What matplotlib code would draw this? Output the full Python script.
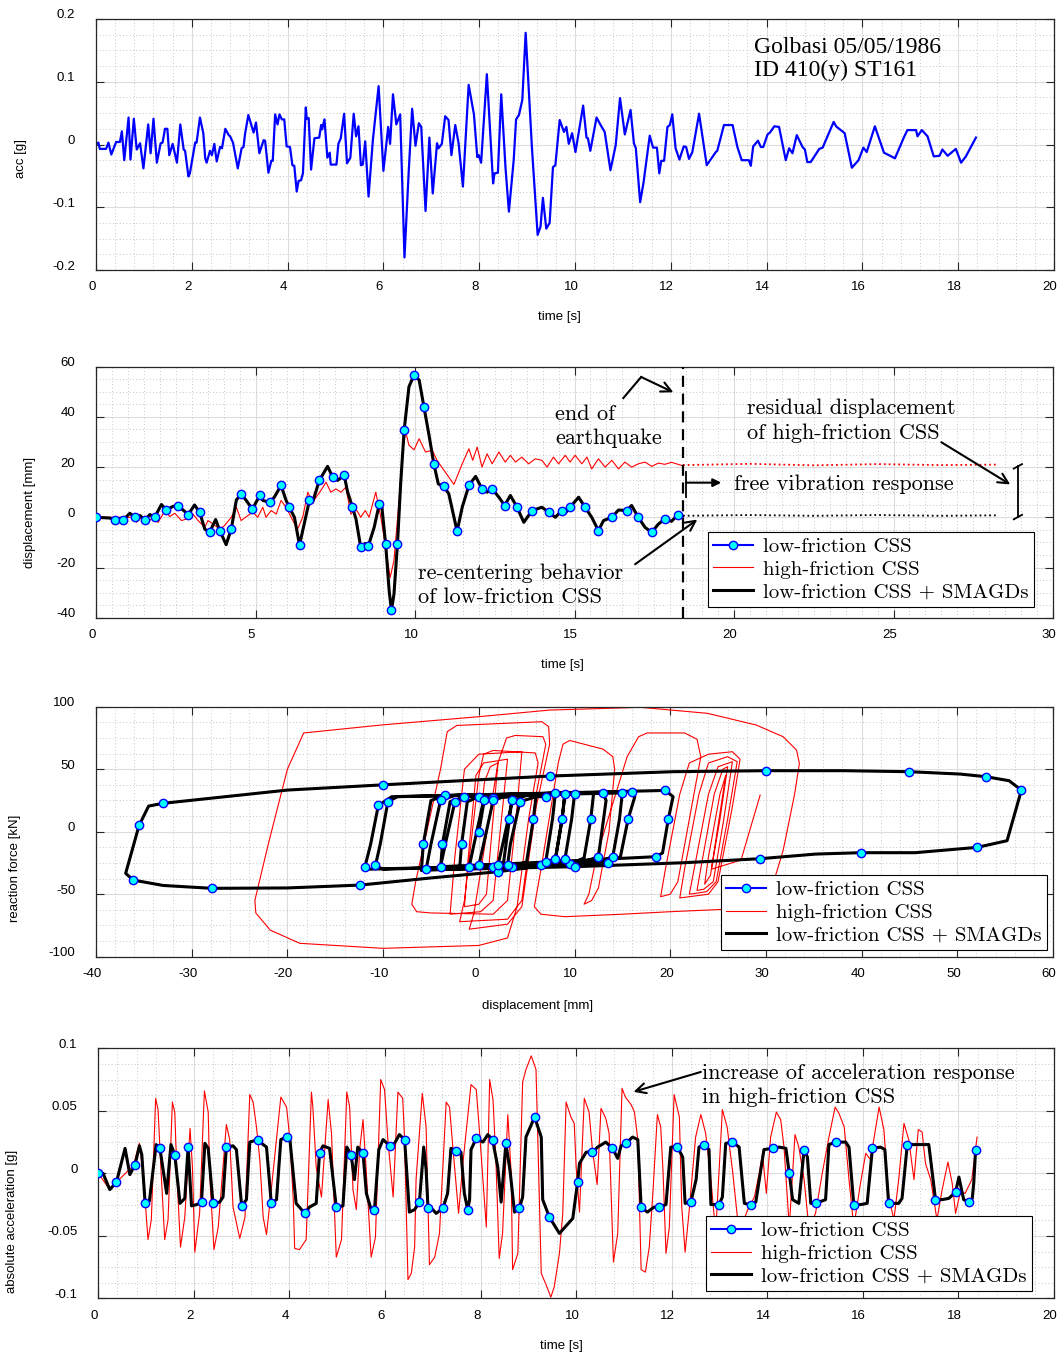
import matplotlib
matplotlib.use('Agg')
import matplotlib.pyplot as plt
from matplotlib.lines import Line2D
from matplotlib.ticker import MultipleLocator
from matplotlib.transforms import ScaledTranslation

plt.rcParams['axes.unicode_minus'] = False
plt.rcParams['font.family'] = ['Liberation Sans', 'DejaVu Sans']

# ---- ground motion record ----
t_acc = [0.00, 0.05, 0.08, 0.21, 0.26, 0.32, 0.42, 0.50, 0.54, 0.59,
         0.68, 0.72, 0.79, 0.85, 0.92, 0.99, 1.09, 1.14, 1.20, 1.27,
         1.35, 1.39, 1.44, 1.49, 1.53, 1.60, 1.69, 1.76, 1.83, 1.86,
         1.93, 1.96, 2.07, 2.10, 2.17, 2.24, 2.28, 2.31, 2.38, 2.42,
         2.47, 2.52, 2.59, 2.63, 2.70, 2.77, 2.80, 2.86, 2.96, 3.04,
         3.08, 3.11, 3.18, 3.29, 3.34, 3.41, 3.50, 3.53, 3.60, 3.66,
         3.69, 3.74, 3.79, 3.83, 3.88, 3.93, 3.98, 4.05, 4.10, 4.14,
         4.19, 4.23, 4.28, 4.32, 4.38, 4.40, 4.44, 4.49, 4.56, 4.66,
         4.70, 4.72, 4.77, 4.83, 4.88, 4.90, 5.02, 5.06, 5.11, 5.18,
         5.24, 5.31, 5.38, 5.43, 5.48, 5.53, 5.57, 5.62, 5.69, 5.78,
         5.90, 6.00, 6.10, 6.14, 6.20, 6.27, 6.35, 6.44, 6.53, 6.60,
         6.67, 6.74, 6.79, 6.88, 6.96, 7.03, 7.12, 7.15, 7.22, 7.29,
         7.36, 7.42, 7.50, 7.57, 7.66, 7.78, 7.89, 7.96, 7.99, 8.04,
         8.16, 8.29, 8.32, 8.39, 8.46, 8.55, 8.62, 8.72, 8.77, 8.83,
         8.90, 8.97, 9.10, 9.22, 9.28, 9.33, 9.40, 9.47, 9.54, 9.59,
         9.68, 9.77, 9.82, 9.87, 9.94, 10.01, 10.17, 10.24, 10.27, 10.32,
         10.45, 10.52, 10.62, 10.74, 10.85, 10.94, 11.04, 11.16, 11.23, 11.27,
         11.36, 11.43, 11.56, 11.63, 11.71, 11.76, 11.80, 11.86, 11.93, 11.98,
         12.03, 12.10, 12.18, 12.27, 12.32, 12.38, 12.45, 12.59, 12.75, 12.94,
         12.97, 13.11, 13.29, 13.39, 13.48, 13.63, 13.67, 13.72, 13.82, 13.88,
         13.93, 14.02, 14.07, 14.16, 14.26, 14.40, 14.47, 14.54, 14.63, 14.75,
         14.80, 14.85, 14.92, 15.10, 15.17, 15.40, 15.45, 15.63, 15.78, 15.92,
         16.02, 16.09, 16.26, 16.45, 16.68, 16.87, 16.94, 17.12, 17.15, 17.24,
         17.36, 17.49, 17.61, 17.67, 17.78, 17.95, 18.06, 18.16, 18.37]
acc = [0.000, 0.003, -0.007, -0.007, 0.003, -0.016, 0.004, 0.004, 0.021, -0.025,
       0.043, -0.024, 0.041, -0.008, 0.002, -0.038, 0.032, -0.014, 0.041, -0.029,
       0.002, 0.003, 0.025, 0.025, -0.017, 0.001, -0.029, 0.032, -0.008, -0.010,
       -0.051, -0.046, 0.003, 0.003, 0.043, 0.018, -0.022, -0.029, -0.010, -0.017,
       0.001, -0.027, -0.004, -0.006, 0.025, 0.015, 0.013, 0.003, -0.038, -0.006,
       -0.004, 0.016, 0.047, 0.019, 0.035, -0.014, 0.007, 0.006, -0.045, -0.026,
       -0.026, 0.048, 0.032, 0.048, 0.040, 0.040, -0.003, -0.004, -0.033, -0.034,
       -0.075, -0.058, -0.057, -0.046, 0.059, 0.041, 0.042, -0.040, 0.010, 0.011,
       0.031, 0.024, 0.040, -0.021, -0.013, -0.032, -0.032, 0.001, 0.010, 0.049,
       -0.030, -0.021, 0.049, 0.013, 0.029, -0.033, -0.032, 0.005, -0.083, 0.007,
       0.093, -0.042, 0.028, 0.001, 0.080, 0.032, 0.048, -0.180, -0.041, 0.057,
       -0.002, 0.034, 0.028, -0.106, 0.011, -0.078, 0.002, -0.006, 0.001, 0.045,
       0.039, -0.017, 0.031, 0.002, -0.067, 0.095, 0.048, -0.020, -0.017, -0.029,
       0.112, -0.062, -0.046, -0.045, 0.080, -0.038, -0.107, -0.025, 0.040, 0.047,
       0.071, 0.178, -0.004, -0.144, -0.131, -0.085, -0.134, -0.125, -0.036, -0.033,
       0.039, 0.020, 0.028, 0.001, 0.018, -0.012, 0.062, 0.011, 0.010, -0.010,
       0.043, 0.033, 0.020, -0.041, -0.001, 0.074, 0.016, 0.055, 0.002, -0.006,
       -0.092, -0.061, 0.014, -0.005, -0.005, -0.046, -0.026, -0.026, 0.028, 0.031,
       0.048, -0.006, -0.024, -0.003, -0.004, -0.023, -0.012, 0.049, -0.033, -0.012,
       -0.010, 0.031, 0.031, -0.004, -0.025, -0.025, -0.034, -0.003, 0.006, -0.004,
       -0.004, 0.016, 0.019, 0.029, 0.028, -0.025, -0.006, -0.014, 0.015, -0.004,
       -0.008, -0.028, -0.028, -0.007, -0.005, 0.036, 0.029, 0.018, -0.037, -0.025,
       -0.005, -0.012, 0.029, -0.013, -0.022, 0.012, 0.023, 0.023, 0.013, 0.023,
       0.013, -0.019, -0.018, -0.008, -0.018, -0.007, -0.029, -0.019, 0.011]

# ---- displacement histories ----
t_disp_low = [0.00, 0.44, 0.59, 0.75, 0.85, 1.06, 1.22, 1.38, 1.53, 1.69,
              1.84, 2.05, 2.21, 2.42, 2.57, 2.73, 2.89, 3.09, 3.25, 3.41,
              3.56, 3.75, 3.88, 4.08, 4.24, 4.40, 4.55, 4.71, 4.90, 4.99,
              5.13, 5.23, 5.44, 5.59, 5.80, 5.96, 6.06, 6.22, 6.38, 6.48,
              6.69, 6.79, 7.00, 7.26, 7.42, 7.57, 7.78, 7.89, 8.04, 8.15,
              8.30, 8.44, 8.54, 8.72, 8.88, 8.96, 9.08, 9.19, 9.26, 9.34,
              9.45, 9.55, 9.66, 9.81, 9.97, 10.13, 10.28, 10.44, 10.59, 10.73,
              10.91, 11.06, 11.32, 11.48, 11.69, 11.90, 12.10, 12.26, 12.42, 12.63,
              12.81, 12.99, 13.20, 13.41, 13.67, 13.98, 14.19, 14.40, 14.60, 14.71,
              14.86, 15.13, 15.33, 15.54, 15.75, 15.91, 16.17, 16.38, 16.64, 16.79,
              17.00, 17.21, 17.42, 17.63, 17.83, 18.04, 18.25, 18.39]
disp_low = [0.0, -0.3, -1.1, -0.5, -1.1, 1.6, 0.0, 0.7, -1.1, 1.1,
            0.0, 5.1, 2.9, 4.4, 4.5, 2.9, 1.1, 4.9, 2.0, -4.7,
            -6.0, -0.9, -5.3, -10.9, -4.7, 6.9, 9.3, 6.7, 3.3, 5.3,
            8.7, 6.7, 6.0, 8.0, 12.7, 6.7, 4.0, 0.0, -11.1, -5.3,
            6.7, 6.0, 14.7, 20.3, 16.0, 14.7, 16.7, 10.0, 4.0, -0.7,
            -12.0, -10.4, -11.3, -4.0, 5.3, 4.3, -10.7, -29.3, -37.1, -30.7,
            -10.7, 13.3, 34.7, 52.0, 56.7, 54.7, 44.0, 32.7, 21.3, 13.3,
            12.3, 9.3, -5.6, 4.0, 12.7, 16.3, 11.3, 10.0, 11.3, 8.0,
            4.7, 8.7, 4.0, -2.0, 2.7, 4.0, 2.0, 0.0, 2.7, 1.6,
            4.0, 8.0, 4.0, 0.0, -5.3, -1.3, 0.0, 2.9, 2.7, 4.7,
            0.0, -4.0, -6.0, -2.7, -0.7, -1.6, 1.1, 0.5]

t_disp_high = [0.00, 1.17, 1.27, 1.43, 1.53, 1.74, 1.95, 2.16, 2.31, 2.47,
               2.68, 2.83, 3.04, 3.20, 3.41, 3.51, 3.67, 3.88, 4.03, 4.24,
               4.40, 4.55, 4.76, 4.92, 5.07, 5.23, 5.33, 5.49, 5.65, 5.80,
               5.96, 6.17, 6.32, 6.48, 6.64, 6.79, 6.90, 7.05, 7.21, 7.36,
               7.52, 7.68, 7.83, 7.99, 8.15, 8.30, 8.44, 8.56, 8.77, 8.93,
               9.08, 9.22, 9.34, 9.50, 9.60, 9.71, 9.81, 9.97, 10.13, 10.33,
               10.54, 10.69, 10.91, 11.22, 11.48, 11.69, 11.81, 11.95, 12.10, 12.26,
               12.42, 12.63, 12.83, 12.99, 13.15, 13.35, 13.56, 13.77, 13.98, 14.14,
               14.34, 14.50, 14.71, 14.86, 15.02, 15.23, 15.39, 15.54, 15.75, 15.96,
               16.17, 16.38, 16.58, 16.79, 17.00, 17.21, 17.42, 17.63, 17.83, 18.04,
               18.35]
disp_high = [0.0, 0.0, -2.0, 0.0, -2.7, -0.7, -2.0, 2.7, 0.3, 1.6,
             -1.3, -0.7, 1.3, -1.3, -4.0, -1.3, -2.7, -4.7, -3.3, 0.0,
             4.0, -1.3, 0.7, 2.0, 0.0, 4.0, 0.0, 2.7, 1.3, 6.7,
             4.0, -1.3, -4.7, 0.0, 10.0, 6.0, 8.0, 10.7, 14.0, 10.0,
             11.3, 10.0, 12.0, 1.3, 3.3, 0.0, 2.7, 0.0, 10.0, 0.0,
             -12.0, -24.0, -17.3, 6.7, 25.3, 34.0, 28.7, 26.9, 31.3, 26.0,
             26.7, 22.7, 18.7, 13.1, 21.3, 27.3, 22.7, 28.0, 20.0, 25.3,
             21.3, 26.0, 22.0, 24.7, 22.0, 24.0, 21.3, 23.3, 22.7, 20.0,
             24.0, 21.3, 24.7, 22.0, 24.7, 21.3, 24.0, 19.3, 23.3, 20.0,
             22.7, 19.3, 22.0, 20.0, 21.3, 22.0, 20.3, 21.6, 21.1, 21.9,
             20.7]

# free vibration after the end of the record
t_free = [18.4, 20.5, 22.5, 24.5, 26.5, 28.3]
free_low = [0.6, 0.9, 0.6, 0.9, 0.6, 0.8]
free_high = [20.8, 21.3, 20.7, 21.2, 20.8, 21.0]

# ---- hysteresis loops (displacement [mm], force [kN]) ----
hyst_low_x = [0.0, 0.5, 1.5, 3.5, 3.2, 2.6, 1.5, -2.0, -1.8, -1.2, 0.0, 6.0,
              5.7, 5.0, 3.5, -4.0, -3.8, -3.0, -1.5, 9.0, 8.7, 8.0, 6.5, -6.0,
              -5.8, -5.0, -3.5, 12.0, 11.7, 11.0, 9.5, -10.0,
              -10.8, -10.3, -9.5, -8.5, 16.0, 16.3, 15.6, 14.8, 13.5, -11.5,
              -11.9, -11.3, -10.5, -9.1, 19.5, 20.3, 19.8, 19.2, 18.5, 5.0, -4.0,
              -3.5, -2.5, -1.0, 8.0, 7.7, 7.0, 5.0,
              2.0, -5.0, -12.4, -20.0, -27.9, -33.0, -36.1, -36.9,
              -35.5, -34.5, -33.0, -20.0, -10.0, 0.0, 7.4, 20.3, 30.0, 38.2, 45.0, 50.3, 53.0, 55.4, 56.7,
              55.2, 52.1, 45.6, 39.9, 35.2, 29.4, 21.5, 10.0, -2.0, -5.5,
              -5.0, -4.0, -2.5, 13.0, 13.3, 12.5, 11.0, -1.0,
              -0.5, 0.5, 2.0, 15.0, 14.7, 14.0, 12.5, 0.0,
              0.5, 1.5, 3.0, 10.0, 9.7, 9.0, 7.5, 2.0,
              2.5, 3.5, 5.0, 9.0, 8.7, 8.0, 6.0, 3.0,
              3.3, 4.3, 6.0, 7.0]
hyst_low_f = [0, 22, 27, 28, 10, -24, -28, -29, -10, 24, 28, 30,
              10, -24, -28, -30, -10, 24, 28, 31, 10, -22, -27, -31,
              -10, 25, 29, 31, 10, -21, -26, -30,
              -27, -10, 24, 28, 32, 28, 10, -20, -25, -30,
              -28, -10, 21, 28, 33, 28, 10, -17, -20, -25, -28,
              -10, 24, 28, 31, 10, -24, -29,
              -32, -37, -42.7, -45, -45.3, -43, -38.7, -33.3,
              5, 20.5, 22.7, 33.3, 37.5, 41.5, 44.5, 48, 48.8, 48.8, 48, 46.1, 44, 40.8, 33.3,
              -7.2, -12.5, -16.8, -16.8, -17.9, -21.6, -24.8, -28, -30, -30,
              -10, 25, 29, 31, 25, -20, -24, -28,
              -10, 25, 29, 31, 10, -20, -24, -27,
              -10, 25, 29, 30, 10, -22, -26, -27,
              -10, 25, 29, 30, 10, -22, -26, -27,
              -10, 24, 28, 28]

hyst_high_x = [0.0, 0.6, 1.2, 2.0, 1.6, 0.8, 0.0, -1.5, -1.1, -0.3, 0.5, 3.0,
               2.5, 1.5, 0.2, -3.0, -2.5, -1.5, 0.0, 4.5, 4.0, 3.0, 1.5, -5.0,
               -6.5, -7.0, -6.6, -4.0, -3.3, -2.3, 6.6, 7.3, 7.4,
               6.0, 4.5, 3.0, -1.0, -0.5, 2.0, 2.9, 3.8, 6.7, 7.0,
               6.0, 4.5, 3.0, -2.0, -1.5, 0.0, 0.5, 1.5, 5.9, 6.2,
               5.2, 4.0, 3.0, 0.0, -10.0, -18.7, -21.8, -23.3, -23.4,
               -22.0, -20.0, -18.3, -10.0, 0.0, 7.4, 16.9, 23.9, 29.0, 31.8, 33.2, 33.5,
               33.0, 31.8, 30.5, 29.0, 26.0, 20.0, 15.0, 9.0, 6.5, 5.8,
               6.5, 8.3, 8.8, 9.5, 13.0, 14.0, 14.2, 13.6, 12.5, 11.8, 11.0,
               11.5, 12.3, 15.5, 16.7, 17.6, 21.5, 22.8, 23.2,
               22.0, 20.8, 20.0, 19.0, 19.5, 21.0, 22.0, 24.0, 26.5, 27.3,
               26.5, 25.0, 24.0, 21.0, 21.5, 23.0, 24.0, 26.0, 27.0,
               26.0, 24.8, 23.8, 22.0, 22.5, 24.0, 25.0, 26.5,
               25.6, 24.5, 23.5, 22.8, 23.3, 24.6, 25.5, 26.0,
               25.2, 24.2, 23.6, 24.0, 25.2, 25.8,
               25.0, 24.3, 27.4, 29.4]
hyst_high_f = [0, 40, 52, 55, 20, -50, -58, -60, -20, 45, 55, 58,
               20, -55, -64, -66, -20, 50, 62, 64, 20, -55, -66, -65,
               -64, -58, -40, 50, 80, 85, 88, 84, 70,
               20, -60, -74, -78, -65, 55, 75, 77, 76, 70,
               30, -55, -70, -72, -55, 45, 62, 65, 63, 55,
               10, -60, -85, -91, -93.3, -89.3, -78.7, -65, -55,
               -10, 50, 79, 85.5, 92, 97.3, 99.5, 94.7, 85.3, 76, 65.3, 54.7,
               30, -15, -48, -58, -62, -64, -66, -68, -66, -60,
               -30, 55, 70, 73, 66, 60, 50, 0, -45, -55, -58,
               -50, -20, 60, 76, 79, 79, 74, 60,
               10, -40, -50, -52, -30, 30, 55, 62, 64, 58,
               20, -40, -50, -53, -30, 30, 55, 60, 56,
               10, -40, -48, -50, -30, 30, 52, 56,
               10, -40, -46, -47, -25, 30, 50, 52,
               10, -35, -42, -20, 30, 45,
               5, -30, -22.7, 29.3]

# ---- absolute acceleration ----
t_abs_low = [0.00, 0.10, 0.24, 0.38, 0.56, 0.66, 0.77, 0.86, 0.91, 0.98,
             1.07, 1.21, 1.29, 1.43, 1.52, 1.60, 1.71, 1.81, 1.88, 1.95,
             2.06, 2.16, 2.23, 2.30, 2.40, 2.54, 2.61, 2.68, 2.82, 2.89,
             3.00, 3.10, 3.17, 3.34, 3.45, 3.52, 3.62, 3.73, 3.82, 3.94,
             4.01, 4.14, 4.32, 4.42, 4.56, 4.63, 4.70, 4.84, 4.98, 5.12,
             5.20, 5.29, 5.36, 5.43, 5.54, 5.61, 5.71, 5.78, 5.87, 5.96,
             6.10, 6.20, 6.30, 6.41, 6.51, 6.62, 6.72, 6.81, 6.86, 6.90,
             7.00, 7.07, 7.21, 7.31, 7.38, 7.49, 7.59, 7.66, 7.73, 7.77,
             7.80, 7.91, 8.05, 8.15, 8.25, 8.36, 8.43, 8.53, 8.62, 8.71,
             8.81, 8.88, 8.95, 9.13, 9.27, 9.30, 9.44, 9.65, 9.93, 10.03,
             10.07, 10.21, 10.34, 10.45, 10.62, 10.76, 10.87, 10.94, 11.04, 11.18,
             11.29, 11.36, 11.49, 11.63, 11.74, 11.88, 11.98, 12.12, 12.23, 12.28,
             12.40, 12.51, 12.57, 12.68, 12.78, 12.82, 12.99, 13.06, 13.13, 13.27,
             13.41, 13.52, 13.65, 13.76, 13.93, 14.11, 14.25, 14.39, 14.46, 14.53,
             14.66, 14.77, 14.84, 14.91, 15.01, 15.22, 15.29, 15.43, 15.64, 15.71,
             15.81, 15.95, 16.09, 16.20, 16.37, 16.46, 16.54, 16.75, 16.82, 16.93,
             17.17, 17.38, 17.52, 17.66, 17.80, 17.94, 18.01, 18.11, 18.22, 18.29,
             18.32, 18.36]
abs_low = [0.000, 0.000, -0.013, -0.007, 0.020, -0.001, 0.007, 0.022, 0.015, -0.024,
           -0.022, 0.023, 0.020, -0.016, 0.023, 0.015, -0.024, -0.020, 0.021, -0.026,
           -0.025, -0.023, 0.024, 0.020, -0.024, -0.023, -0.019, 0.021, 0.022, 0.019,
           -0.026, -0.021, 0.025, 0.027, 0.023, 0.021, -0.024, -0.021, 0.027, 0.029,
           0.027, -0.024, -0.032, -0.027, -0.024, 0.016, 0.022, 0.020, -0.027, -0.026,
           0.021, 0.015, -0.005, 0.021, 0.016, -0.016, -0.029, -0.029, 0.019, 0.027,
           0.022, 0.024, 0.031, 0.027, -0.031, -0.029, -0.023, 0.021, 0.003, -0.028,
           -0.029, -0.032, -0.028, -0.016, 0.020, 0.018, 0.017, -0.016, -0.029, -0.021,
           0.019, 0.028, 0.025, 0.031, 0.027, 0.005, -0.023, 0.024, 0.001, -0.031,
           -0.028, -0.019, 0.029, 0.045, 0.029, -0.021, -0.035, -0.048, -0.036, -0.007,
           0.008, 0.017, 0.017, 0.021, 0.025, 0.020, 0.012, 0.022, 0.024, 0.029,
           0.027, -0.027, -0.031, -0.027, -0.027, -0.025, 0.021, 0.021, 0.013, -0.024,
           -0.023, -0.005, 0.021, 0.023, 0.019, -0.025, -0.025, -0.019, 0.024, 0.025,
           0.021, -0.024, -0.025, -0.023, 0.019, 0.020, 0.021, 0.020, 0.000, -0.021,
           -0.024, 0.019, 0.013, -0.024, -0.024, -0.021, 0.023, 0.025, 0.025, 0.021,
           -0.025, -0.025, -0.024, 0.020, 0.021, 0.019, -0.024, -0.024, -0.020, 0.023,
           0.023, 0.023, -0.021, -0.021, -0.020, -0.015, -0.003, -0.021, -0.023, -0.020,
           -0.008, 0.019]

t_abs_high = [0.00, 0.24, 0.38, 0.73, 0.86, 0.94, 1.04, 1.11, 1.20, 1.25,
              1.32, 1.39, 1.46, 1.55, 1.60, 1.65, 1.72, 1.81, 1.92, 1.97,
              2.02, 2.12, 2.22, 2.30, 2.33, 2.42, 2.51, 2.68, 2.75, 2.82,
              2.96, 3.07, 3.17, 3.24, 3.31, 3.38, 3.45, 3.52, 3.62, 3.82,
              3.94, 4.01, 4.08, 4.11, 4.21, 4.35, 4.46, 4.49, 4.56, 4.67,
              4.81, 4.88, 4.98, 5.09, 5.20, 5.26, 5.33, 5.40, 5.47, 5.54,
              5.61, 5.71, 5.80, 5.91, 5.99, 6.06, 6.17, 6.27, 6.37, 6.41,
              6.48, 6.55, 6.62, 6.65, 6.78, 6.86, 6.93, 7.04, 7.14, 7.28,
              7.35, 7.42, 7.54, 7.63, 7.80, 7.91, 7.98, 8.12, 8.19, 8.26,
              8.32, 8.39, 8.46, 8.57, 8.64, 8.67, 8.78, 8.88, 8.95, 9.06,
              9.16, 9.27, 9.37, 9.47, 9.54, 9.65, 9.72, 9.79, 9.89, 9.96,
              10.00, 10.07, 10.17, 10.27, 10.34, 10.44, 10.52, 10.62, 10.69, 10.78,
              10.87, 10.96, 11.03, 11.15, 11.22, 11.29, 11.36, 11.45, 11.53, 11.61,
              11.70, 11.77, 11.82, 11.88, 11.95, 12.05, 12.16, 12.21, 12.28, 12.36,
              12.50, 12.61, 12.71, 12.82, 12.92, 13.06, 13.16, 13.27, 13.41, 13.59,
              13.73, 13.83, 13.90, 13.98, 14.07, 14.19, 14.28, 14.35, 14.46, 14.58,
              14.66, 14.77, 14.87, 15.01, 15.15, 15.29, 15.42, 15.50, 15.61, 15.71,
              15.81, 15.95, 16.06, 16.16, 16.34, 16.44, 16.54, 16.65, 16.75, 16.86,
              16.96, 17.07, 17.16, 17.24, 17.31, 17.42, 17.55, 17.66, 17.78, 17.87,
              17.94, 18.04, 18.14, 18.28, 18.39]
abs_high = [0.000, -0.013, -0.007, 0.006, 0.024, 0.000, -0.053, -0.037, 0.060, 0.051,
            -0.003, -0.053, -0.037, 0.057, 0.049, -0.005, -0.059, -0.035, 0.036, 0.005,
            -0.063, -0.032, 0.066, 0.049, 0.000, -0.061, -0.043, 0.039, 0.027, -0.027,
            -0.052, -0.035, 0.063, 0.057, 0.037, 0.011, -0.035, -0.049, -0.013, 0.061,
            0.053, 0.027, -0.021, -0.060, -0.061, -0.053, 0.065, 0.053, 0.005, -0.019,
            0.059, 0.032, -0.067, -0.053, 0.065, 0.053, -0.013, -0.029, 0.019, 0.043,
            0.000, -0.067, -0.051, 0.075, 0.067, 0.027, -0.019, 0.065, 0.060, 0.027,
            -0.085, -0.080, -0.059, -0.005, 0.064, 0.037, -0.073, -0.067, -0.048, 0.057,
            0.053, 0.021, -0.032, 0.008, 0.071, 0.067, 0.032, -0.043, 0.075, 0.059,
            0.011, -0.068, -0.048, 0.047, 0.000, -0.077, -0.064, 0.073, 0.083, 0.094,
            0.083, -0.080, -0.089, -0.099, -0.091, -0.064, -0.032, 0.057, 0.045, 0.040,
            0.005, -0.031, 0.060, 0.049, 0.019, -0.009, 0.052, 0.044, 0.032, -0.071,
            -0.048, 0.068, 0.061, 0.055, 0.049, 0.027, -0.077, -0.079, -0.059, -0.013,
            0.047, 0.037, 0.000, -0.064, -0.043, 0.063, 0.045, -0.027, -0.063, -0.032,
            0.029, 0.047, 0.032, -0.005, -0.048, 0.051, 0.037, 0.003, -0.048, -0.029,
            -0.019, 0.000, 0.015, -0.016, 0.029, 0.049, 0.043, 0.021, -0.043, 0.031,
            0.021, -0.005, -0.043, -0.032, 0.000, 0.029, 0.053, 0.048, 0.037, -0.005,
            -0.043, -0.008, 0.016, 0.011, 0.053, 0.035, -0.019, -0.037, -0.005, 0.040,
            0.027, -0.005, 0.035, 0.033, 0.008, -0.005, -0.037, -0.013, 0.009, -0.008,
            -0.032, -0.015, -0.016, -0.005, 0.029]

series_labels = ['low-friction CSS', 'high-friction CSS', 'low-friction CSS + SMAGDs']

CM = 'cmr10'
W, H = 1061, 1354
fig = plt.figure(figsize=(W / 100, H / 100), dpi=100)


def px_axes(left, top, right, bottom):
    return fig.add_axes([left / W, 1 - bottom / H, (right - left) / W, (bottom - top) / H])


def style(ax, xmaj, xmin, ymaj, ymin):
    ax.xaxis.set_major_locator(MultipleLocator(xmaj))
    ax.xaxis.set_minor_locator(MultipleLocator(xmin))
    ax.yaxis.set_major_locator(MultipleLocator(ymaj))
    ax.yaxis.set_minor_locator(MultipleLocator(ymin))
    ax.grid(which='major', color='#dcdcdc', lw=0.8, ls='-')
    ax.grid(which='minor', color='#b5b5b5', lw=0.6, ls=(0, (1, 3)))
    ax.set_axisbelow(True)
    ax.tick_params(which='major', direction='in', length=6, width=0.8,
                   top=True, right=True, labelsize=9.5, color='#262626')
    ax.tick_params(axis='y', pad=15)
    ax.tick_params(axis='x', pad=8)
    ax.tick_params(which='minor', length=0)
    for s in ax.spines.values():
        s.set_color('#262626')
        s.set_linewidth(0.9)


def shift_ticklabels(ax):
    dx = ScaledTranslation(-0.04, 0, fig.dpi_scale_trans)
    dy = ScaledTranslation(0, 0.05, fig.dpi_scale_trans)
    for lab in ax.get_xticklabels():
        lab.set_transform(lab.get_transform() + dx)
    for lab in ax.get_yticklabels():
        lab.set_transform(lab.get_transform() + dy)


def legend_handles():
    return [Line2D([], [], color='blue', lw=1.5, marker='o', ms=6, mfc='cyan', mec='blue', mew=1),
            Line2D([], [], color='red', lw=0.8),
            Line2D([], [], color='black', lw=2.2)]


def add_legend(ax, anchor):
    leg = ax.legend(legend_handles(), series_labels, loc='lower right', bbox_to_anchor=anchor,
                    borderaxespad=0, prop={'family': CM, 'size': 15}, fancybox=False,
                    framealpha=1, edgecolor='black', handlelength=1.9, handletextpad=0.5,
                    labelspacing=0.2, borderpad=0.25)
    leg.get_frame().set_linewidth(0.8)
    leg.set_zorder(10)


def note(ax, x, y, s):
    ax.text(x, y, s, family=CM, fontsize=16, va='center', ha='left', linespacing=1.3)


def arrow(ax, start, end, style='->', scale=18):
    ax.annotate('', xy=end, xytext=start,
                arrowprops=dict(arrowstyle=style, color='black', lw=1.5, mutation_scale=scale,
                                shrinkA=0, shrinkB=0))


# ===== 1. ground acceleration =====
ax1 = px_axes(96, 19, 1054, 270)
ax1.plot(t_acc, acc, color='blue', lw=1.6)
ax1.set_xlim(0, 20)
ax1.set_ylim(-0.2, 0.2)
style(ax1, 2, 0.4, 0.1, 0.025)
ax1.set_yticks([-0.2, -0.1, 0, 0.1, 0.2])
ax1.set_yticklabels(['-0.2', '-0.1', '0', '0.1', '0.2'])
ax1.set_xlabel('time [s]', fontsize=9.5)
ax1.set_ylabel('acc [g]', fontsize=9.5)
ax1.xaxis.set_label_coords(0.484, -0.163)
ax1.yaxis.set_label_coords(-0.072, 0.446)
ax1.text(13.73, 0.136, 'Golbasi 05/05/1986\nID 410(y) ST161', family='Liberation Serif',
         fontsize=17, va='center', ha='left', linespacing=1.1)
shift_ticklabels(ax1)

# ===== 2. displacement time history =====
ax2 = px_axes(96, 366.7, 1053, 617.7)
ax2.plot(t_disp_low, disp_low, color='blue', lw=1.2, zorder=2)
ax2.plot(t_disp_high, disp_high, color='red', lw=0.8, zorder=2.5)
ax2.plot(t_disp_low, disp_low, color='black', lw=2.2, zorder=3)
ax2.plot(t_disp_low, disp_low, ls='none', marker='o', ms=6, mfc='cyan', mec='blue',
         mew=1, markevery=2, zorder=4)
ax2.plot(t_free, free_high, color='red', ls=':', lw=1.3, zorder=2.5)
ax2.plot(t_free, free_low, color='black', ls=':', lw=1.3, zorder=3)
ax2.axvline(18.4, color='black', ls=(0, (5, 3)), lw=1.6, zorder=3)
ax2.set_xlim(0, 30)
ax2.set_ylim(-40, 60)
style(ax2, 5, 0.5, 20, 5)
ax2.set_xlabel('time [s]', fontsize=9.5)
ax2.set_ylabel('displacement [mm]', fontsize=9.5)
ax2.xaxis.set_label_coords(0.487, -0.164)
ax2.yaxis.set_label_coords(-0.063, 0.42)

note(ax2, 14.4, 36.3, 'end of\nearthquake')
ax2.plot([16.53, 17.09], [47.5, 55.9], color='black', lw=1.5)
arrow(ax2, (17.09, 55.9), (18.1, 49.8))
note(ax2, 20.4, 38.5, 'residual displacement\nof high-friction CSS')
arrow(ax2, (26.5, 29.9), (28.66, 13.1))
# bracket showing the residual offset
ax2.plot([28.9, 28.9], [20.4, 0.2], color='black', lw=1.3)
ax2.plot([28.77, 29.03], [19.4, 21.2], color='black', lw=1.3)
ax2.plot([28.77, 29.03], [-0.8, 1.0], color='black', lw=1.3)
note(ax2, 20.0, 13.1, 'free vibration response')
ax2.plot([18.5, 18.5], [18.2, 8.2], color='black', lw=1.3)
arrow(ax2, (18.5, 13.8), (19.6, 13.8), style='-|>', scale=12)
note(ax2, 10.1, -27.0, 're-centering behavior\nof low-friction CSS')
arrow(ax2, (16.9, -18.7), (18.85, -0.9))
add_legend(ax2, (0.980, 0.044))
shift_ticklabels(ax2)

# ===== 3. force - displacement loops =====
ax3 = px_axes(96, 706.7, 1053, 956.7)
ax3.plot(hyst_low_x, hyst_low_f, color='blue', lw=1.2, zorder=2)
ax3.plot(hyst_high_x, hyst_high_f, color='red', lw=0.8, zorder=2.5)
ax3.plot(hyst_low_x, hyst_low_f, color='black', lw=2.2, zorder=3)
ax3.plot(hyst_low_x, hyst_low_f, ls='none', marker='o', ms=6, mfc='cyan', mec='blue',
         mew=1, markevery=2, zorder=4)
ax3.set_xlim(-40, 60)
ax3.set_ylim(-100, 100)
style(ax3, 10, 2, 50, 12.5)
ax3.set_xlabel('displacement [mm]', fontsize=9.5)
ax3.set_ylabel('reaction force [kN]', fontsize=9.5)
ax3.xaxis.set_label_coords(0.461, -0.173)
ax3.yaxis.set_label_coords(-0.078, 0.355)
add_legend(ax3, (0.9937, 0.027))
shift_ticklabels(ax3)

# ===== 4. absolute acceleration of the isolated mass =====
ax4 = px_axes(98.3, 1048.3, 1054, 1298.4)
ax4.plot(t_abs_low, abs_low, color='blue', lw=1.2, zorder=2)
ax4.plot(t_abs_high, abs_high, color='red', lw=0.8, zorder=2.5)
ax4.plot(t_abs_low, abs_low, color='black', lw=2.2, zorder=3)
ax4.plot(t_abs_low, abs_low, ls='none', marker='o', ms=6, mfc='cyan', mec='blue',
         mew=1, markevery=3, zorder=4)
ax4.set_xlim(0, 20)
ax4.set_ylim(-0.1, 0.1)
style(ax4, 2, 0.4, 0.05, 0.0125)
ax4.set_yticks([-0.1, -0.05, 0, 0.05, 0.1])
ax4.set_yticklabels(['-0.1', '-0.05', '0', '0.05', '0.1'])
ax4.set_xlabel('time [s]', fontsize=9.5)
ax4.set_ylabel('absolute acceleration [g]', fontsize=9.5)
ax4.xaxis.set_label_coords(0.485, -0.166)
ax4.yaxis.set_label_coords(-0.084, 0.306)
note(ax4, 12.64, 0.0705, 'increase of acceleration response\nin high-friction CSS')
arrow(ax4, (12.61, 0.0811), (11.2, 0.0652))
add_legend(ax4, (0.977, 0.03))
shift_ticklabels(ax4)

fig.savefig('out.png', dpi=100)
